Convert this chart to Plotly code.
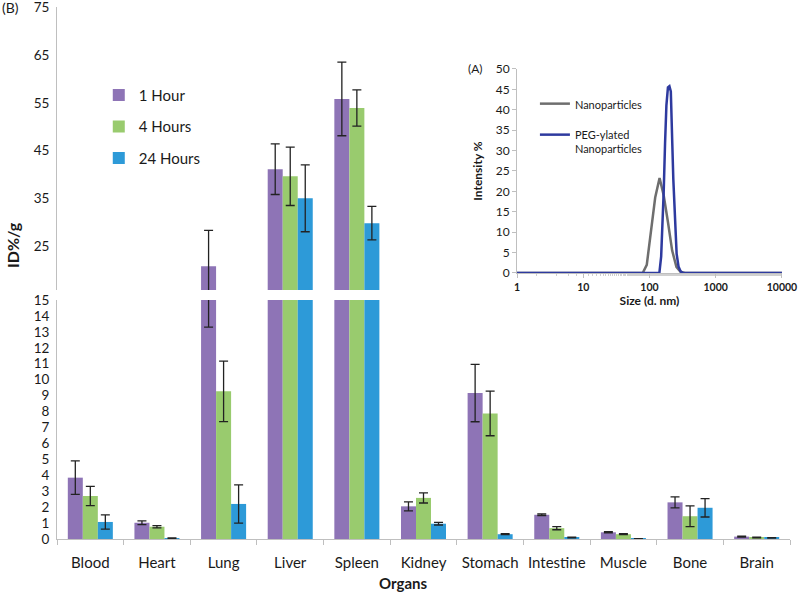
import plotly.graph_objects as go

# ---------------- data ----------------
organs = ["Blood", "Heart", "Lung", "Liver", "Spleen", "Kidney", "Stomach",
          "Intestine", "Muscle", "Bone", "Brain"]
h1 = [3.85, 1.02, 20.8, 41.1, 55.8, 2.05, 9.16, 1.52, 0.42, 2.30, 0.15]
h1_err = [1.05, 0.12, 7.5, 5.3, 7.7, 0.28, 1.8, 0.05, 0.04, 0.35, 0.03]
h4 = [2.70, 0.77, 9.27, 39.6, 53.9, 2.58, 7.88, 0.68, 0.30, 1.43, 0.10]
h4_err = [0.60, 0.07, 1.9, 6.1, 3.8, 0.32, 1.4, 0.10, 0.03, 0.65, 0.02]
h24 = [1.07, 0.05, 2.20, 35.0, 29.8, 0.96, 0.30, 0.10, 0.02, 1.96, 0.07]
h24_err = [0.45, 0.02, 1.2, 7.0, 3.5, 0.08, 0.03, 0.02, 0.01, 0.58, 0.02]

series_names = ["1 Hour", "4 Hours", "24 Hours"]
series_colors = ["#8E74B6", "#99CB6E", "#2D9AD8"]

lower_ticks = list(range(0, 16))
upper_ticks = [25, 35, 45, 55, 65, 75]

# inset (A): DLS size distribution
np_size = [1, 10, 68, 79, 91, 106, 122, 142, 164, 190, 220, 255, 295, 342, 1000, 10000]
np_int = [0, 0, 0, 0, 2, 10, 18.5, 23.3, 19, 12.5, 5.5, 1.5, 0.3, 0, 0, 0]
peg_size = [1, 10, 100, 141, 150, 158, 164, 172, 180, 190, 200, 210, 215, 221,
            229, 243, 257, 275, 295, 320, 1000, 10000]
peg_int = [0, 0, 0, 0, 4, 12, 20, 32, 41, 45.5, 45.8, 44.5, 40, 31.7,
           23, 11, 4.7, 1.5, 0.4, 0, 0, 0]
inset_xticks = [1, 10, 100, 1000, 10000]

FONT = "Lato"
AXC = "#BFBFBF"
TXT = "#1a1a1a"

fig = go.Figure()

vals = [h1, h4, h24]
errs = [h1_err, h4_err, h24_err]
for yax in ["y", "y2"]:
    for name, col, v, e in zip(series_names, series_colors, vals, errs):
        fig.add_trace(go.Bar(
            x=organs, y=v, name=name, marker=dict(color=col, line=dict(width=0)),
            error_y=dict(type="data", array=e, visible=True, color="#222222",
                         thickness=1.3, width=4.5),
            xaxis="x", yaxis=yax, legendgroup=name,
            showlegend=(yax == "y"), legend="legend",
        ))

fig.add_trace(go.Scatter(
    x=np_size, y=np_int, mode="lines", name="Nanoparticles",
    line=dict(color="#6E6E6E", width=2.5), xaxis="x2", yaxis="y3",
    legend="legend2", legendgroup="np"))
fig.add_trace(go.Scatter(
    x=peg_size, y=peg_int, mode="lines", name="PEG-ylated<br>Nanoparticles",
    line=dict(color="#2E3A9F", width=2.5), xaxis="x2", yaxis="y3",
    legend="legend2", legendgroup="peg"))

fig.update_layout(
    width=800, height=594,
    margin=dict(l=57, r=10, t=7, b=55, autoexpand=False),
    paper_bgcolor="white", plot_bgcolor="white",
    font=dict(family=FONT, color=TXT, size=14),
    barmode="group", bargap=0.324, bargroupgap=0,
    xaxis=dict(domain=[0, 1], anchor="y", type="category", showline=True,
               linecolor=AXC, linewidth=1, ticks="outside", tickson="boundaries",
               ticklen=5, tickcolor=AXC, showgrid=False, tickangle=0, automargin=False,
               tickfont=dict(size=15, family=FONT, color=TXT), ticklabelstandoff=10),
    yaxis=dict(domain=[0, 0.4492], anchor="x", range=[0, 15.0], tickvals=lower_ticks,
               showline=True, linecolor=AXC, linewidth=1, ticks="", showgrid=False,
               zeroline=False, automargin=False, ticklabelstandoff=4,
               ticklabeloverflow="allow",
               tickfont=dict(size=13.5, family=FONT, color=TXT)),
    yaxis2=dict(domain=[0.468, 1.0], anchor="x", range=[15.8, 75.05], tickvals=upper_ticks,
                showline=True, linecolor=AXC, linewidth=1, ticks="", showgrid=False,
                zeroline=False, automargin=False, ticklabelstandoff=4,
                ticklabeloverflow="allow",
                tickfont=dict(size=13.5, family=FONT, color=TXT)),
    xaxis2=dict(domain=[0.6276, 0.989], anchor="y3", type="log", range=[0, 4],
                tickvals=inset_xticks, ticktext=[f"<b>{t}</b>" for t in inset_xticks],
                showline=True, linecolor=AXC, linewidth=1, ticks="outside", ticklen=4,
                tickcolor=AXC, showgrid=False, automargin=False,
                ticklabeloverflow="allow",
                minor=dict(ticks="outside", ticklen=2, tickcolor="#D0D0D0", showgrid=False),
                tickfont=dict(size=10.5, family=FONT, color=TXT),
                title=dict(text="<b>Size (d. nm)</b>", standoff=2,
                           font=dict(size=12, family=FONT, color=TXT))),
    yaxis3=dict(domain=[0.5, 0.8835], anchor="x2", range=[0, 50], dtick=5,
                showline=True, linecolor=AXC, linewidth=1, ticks="outside", ticklen=4,
                tickcolor=AXC, showgrid=False, zeroline=False, automargin=False,
                tickfont=dict(size=12, family=FONT, color=TXT),
                title=dict(text="<b>Intensity %</b>", standoff=10,
                           font=dict(size=12, family=FONT, color=TXT))),
    legend=dict(x=0.057, y=0.865, xanchor="left", yanchor="top",
                bgcolor="rgba(0,0,0,0)", font=dict(size=15, family=FONT, color=TXT),
                tracegroupgap=9, traceorder="grouped"),
    legend2=dict(x=0.652, y=0.844, xanchor="left", yanchor="top",
                 bgcolor="rgba(0,0,0,0)", font=dict(size=11, family=FONT, color=TXT),
                 tracegroupgap=12, valign="top", traceorder="grouped"),
    showlegend=True,
    annotations=[
        dict(text="(B)", x=-0.064, y=1.0, xref="paper", yref="paper",
             xanchor="center", yanchor="middle",
             showarrow=False, font=dict(size=14, family=FONT, color=TXT)),
        dict(text="<b>ID%/g</b>", x=-0.0614, y=0.5526, xref="paper", yref="paper",
             xanchor="center", yanchor="middle",
             showarrow=False, textangle=-90, font=dict(size=16, family=FONT, color=TXT)),
        dict(text="<b>Organs</b>", x=0.4727, y=-0.0827, xref="paper", yref="paper",
             xanchor="center", yanchor="middle",
             showarrow=False, font=dict(size=15, family=FONT, color=TXT)),
        dict(text="(A)", x=0.5716, y=0.8835, xref="paper", yref="paper",
             xanchor="center", yanchor="middle",
             showarrow=False, font=dict(size=12, family=FONT, color=TXT)),
    ],
)

fig.write_html("out.html", config={"displayModeBar": False},
               post_script="document.body.style.margin='0';document.body.style.padding='0';")
